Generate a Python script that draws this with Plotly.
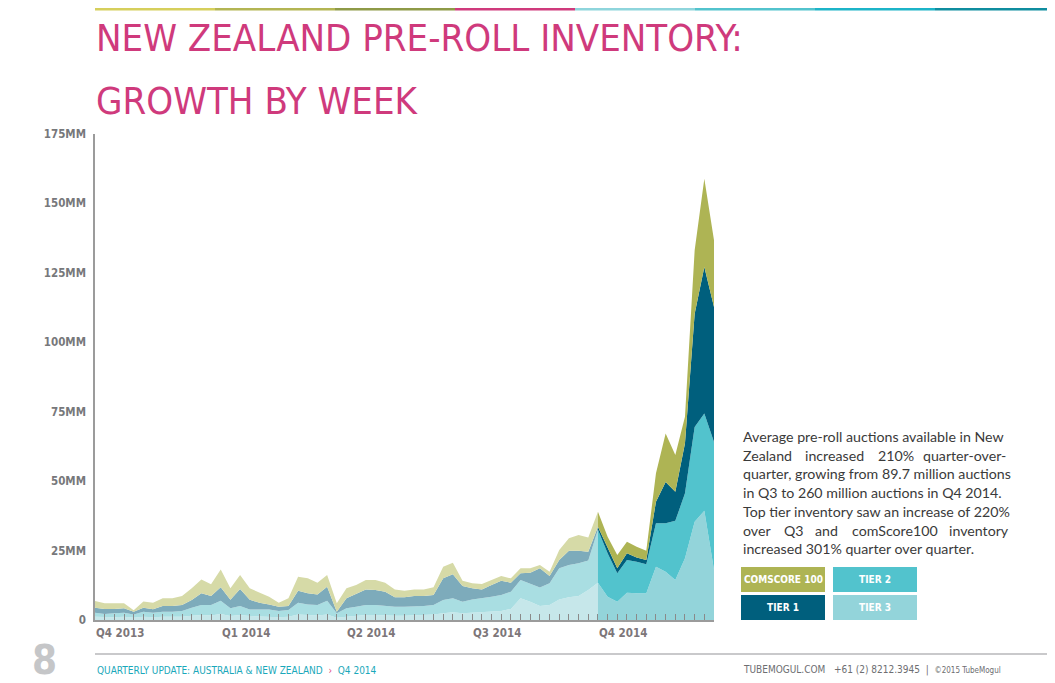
import plotly.graph_objects as go

# weekly pre-roll inventory, millions of auctions (Q4 2013 .. Q4 2014)
weeks = list(range(65))

tier3 = [1.2, 1.0, 1.0, 1.2, 0.8, 1.2, 1.0, 1.2, 1.2, 1.2,
         1.5, 1.8, 1.6, 2.2, 1.4, 1.8, 1.4, 1.2, 1.2, 1.0,
         1.2, 2.0, 1.8, 1.6, 2.0, 0.8, 1.2, 1.5, 1.8, 1.8,
         1.6, 1.5, 1.5, 1.6, 1.8, 2.0, 2.4, 2.8, 2.4, 2.6,
         2.8, 3.0, 3.2, 4.0, 7.8, 6.6, 5.0, 5.4, 7.4, 8.2,
         8.6, 10.8, 13.4, 8.4, 6.6, 9.8, 9.6, 9.6, 19.2, 17.4,
         14.4, 22.2, 35.4, 39.3, 18.0]
tier2 = [1.4, 1.2, 1.4, 1.4, 1.2, 1.8, 1.6, 1.8, 1.8, 2.0,
         2.9, 3.6, 3.8, 4.7, 2.8, 3.2, 2.4, 2.6, 2.6, 2.2,
         2.4, 4.2, 3.8, 3.8, 4.9, 1.6, 3.0, 3.3, 3.6, 3.6,
         3.4, 3.3, 3.3, 3.2, 3.2, 3.4, 4.8, 5.0, 4.2, 4.8,
         5.0, 5.4, 5.8, 6.2, 6.6, 6.4, 6.7, 7.8, 11.2, 11.6,
         11.8, 10.6, 19.1, 15.6, 10.2, 11.8, 11.4, 10.5, 15.6, 17.4,
         21.3, 23.4, 34.1, 35.1, 46.1]
tier1 = [1.8, 1.8, 1.6, 1.6, 1.0, 1.4, 1.3, 2.0, 2.0, 2.2,
         2.8, 4.2, 3.2, 4.9, 3.1, 6.2, 3.5, 2.4, 1.8, 1.6,
         1.4, 4.3, 4.0, 3.8, 5.1, 0.6, 3.6, 4.6, 5.6, 5.4,
         5.2, 3.4, 3.4, 3.8, 3.6, 3.6, 7.8, 8.7, 5.6, 4.0,
         3.2, 4.2, 5.1, 3.2, 2.4, 4.0, 6.9, 2.6, 3.0, 5.1,
         4.5, 3.2, 1.1, 1.8, 1.8, 2.4, 1.5, 1.5, 7.8, 14.9,
         10.5, 18.0, 40.8, 52.7, 48.6]
comscore100 = [2.4, 2.0, 2.0, 1.8, 0.5, 2.3, 2.3, 2.8, 2.8, 3.2,
               4.2, 5.0, 4.3, 6.4, 4.1, 5.0, 4.1, 3.6, 2.8, 1.4,
               2.8, 5.1, 5.4, 4.2, 4.2, 3.0, 3.6, 3.2, 3.4, 3.6,
               3.2, 2.8, 2.3, 2.4, 2.4, 2.8, 4.2, 4.1, 1.9, 1.8,
               2.0, 1.8, 1.7, 1.6, 1.8, 1.6, 1.2, 1.6, 3.6, 4.5,
               5.7, 5.1, 5.4, 4.2, 4.8, 4.2, 3.9, 3.3, 10.2, 17.5,
               13.2, 9.6, 22.8, 31.8, 24.0]

Q4_START = 52  # first week of Q4 2014, where the colours go full strength

series = [
    ("Tier 3", tier3, "#C6E7EA", "#93D4DA"),
    ("Tier 2", tier2, "#A9DEE2", "#52C3CD"),
    ("Tier 1", tier1, "#7DABBB", "#005F7D"),
    ("comScore 100", comscore100, "#D6DAA7", "#AEB454"),
]

quarter_weeks = [0, 13, 26, 39, 52]
quarter_labels = ["Q4 2013", "Q1 2014", "Q2 2014", "Q3 2014", "Q4 2014"]

y_ticks = [0, 25, 50, 75, 100, 125, 150, 175]
y_ticktext = ["0"] + ["%dMM" % v for v in y_ticks[1:]]

# the page body adds an 8px margin, so the figure is drawn 8px smaller
PAGE = 8
W, H = 1055 - PAGE, 683 - PAGE
L, R, T, B = 95, 714, 134, 620   # plot area in page pixels

COND = "DejaVu Sans Condensed, Roboto Condensed, Roboto, sans-serif"


def px(x):
    return (x - L) / (R - L)


def py(y):
    return (B - y) / (B - T)


fig = go.Figure()

for name, vals, faded, full in series:
    fig.add_trace(go.Scatter(
        x=weeks[:Q4_START + 1], y=vals[:Q4_START + 1], name=name,
        stackgroup="past", mode="lines", line=dict(width=0, color=faded),
        fillcolor=faded, showlegend=False))
for name, vals, faded, full in series:
    fig.add_trace(go.Scatter(
        x=weeks[Q4_START:], y=vals[Q4_START:], name=name,
        stackgroup="q4", mode="lines", line=dict(width=0, color=full),
        fillcolor=full, showlegend=False))

shapes = []
annotations = []

# coloured stripe along the top of the page
stripe = ["#D6CF5C", "#B3B553", "#8E9A47", "#CF3A7C",
          "#8ED5DC", "#52C3CD", "#1CB4C8", "#0F8D9F"]
for k, c in enumerate(stripe):
    shapes.append(dict(type="rect", xref="paper", yref="paper",
                       x0=px(95 + 120 * k), x1=px(95 + 120 * (k + 1)),
                       y0=py(PAGE + 2.5), y1=py(PAGE), fillcolor=c,
                       line_width=0))

# title
for yy, line in [(38, "NEW ZEALAND PRE-ROLL INVENTORY:"), (101, "GROWTH BY WEEK")]:
    annotations.append(dict(x=px(94), y=py(yy), xref="paper", yref="paper",
                            text=line, showarrow=False, xanchor="left",
                            yanchor="middle",
                            font=dict(family=COND, size=38, color="#CF3A7C",
                                      weight=300)))

# quarter labels under the axis
for wk, lab in zip(quarter_weeks, quarter_labels):
    annotations.append(dict(x=wk, y=py(633), xref="x", yref="paper", text=lab,
                            showarrow=False, xanchor="left", yanchor="middle",
                            xshift=-1,
                            font=dict(family=COND, size=11.5,
                                      color="#7D7679", weight="bold")))

# commentary text
text_font = dict(family="Lato", size=14.2, color="#3A3A3A")
lines = [
    (436, ["Average pre-roll auctions available in New"], [741]),
    (455, ["Zealand", "increased", "210%", "quarter-over-"], [741, 803, 876, 921]),
    (473, ["quarter, growing from 89.7 million auctions"], [741]),
    (492, ["in Q3 to 260 million auctions in Q4 2014."], [741]),
    (511, ["Top tier inventory saw an increase of 220%"], [741]),
    (530, ["over", "Q3", "and", "comScore100", "inventory"], [741, 782, 813, 850, 947]),
    (548, ["increased 301% quarter over quarter."], [741]),
]
for yy, words, xs in lines:
    for w, xx in zip(words, xs):
        annotations.append(dict(x=px(xx), y=py(yy), xref="paper", yref="paper",
                                text=w, showarrow=False, xanchor="left",
                                yanchor="middle", font=text_font))

# legend boxes
legend = [
    ("COMSCORE 100", "#AEB454", 741, 567),
    ("TIER 2", "#52C3CD", 833, 567),
    ("TIER 1", "#005F7D", 741, 595),
    ("TIER 3", "#93D4DA", 833, 595),
]
for lab, c, x0, y0 in legend:
    shapes.append(dict(type="rect", xref="paper", yref="paper",
                       x0=px(x0), x1=px(x0 + 84), y0=py(y0 + 25), y1=py(y0),
                       fillcolor=c, line_width=0))
    annotations.append(dict(x=px(x0 + 42), y=py(y0 + 12.5), xref="paper",
                            yref="paper", text=lab, showarrow=False,
                            xanchor="center", yanchor="middle",
                            font=dict(family=COND, size=10,
                                      color="white", weight="bold")))

# footer
shapes.append(dict(type="line", xref="paper", yref="paper",
                   x0=px(95), x1=px(1055), y0=py(654), y1=py(654),
                   line=dict(color="#C9C9CB", width=2)))
annotations += [
    dict(x=px(59), y=py(660), xref="paper", yref="paper", text="8",
         showarrow=False, xanchor="right", yanchor="middle",
         font=dict(family=COND, size=40, color="#C5C6C8", weight="bold")),
    dict(x=px(95), y=py(670), xref="paper", yref="paper",
         text="QUARTERLY UPDATE: AUSTRALIA &amp; NEW ZEALAND  "
              "<span style='color:#E0457F'>›</span>  Q4 2014",
         showarrow=False, xanchor="left", yanchor="middle",
         font=dict(family=COND, size=10, color="#1AA8BA")),
    dict(x=px(1003), y=py(670), xref="paper", yref="paper",
         text="TUBEMOGUL.COM   +61 (2) 8212.3945  |  "
              "<span style='font-size:8px'>©2015 TubeMogul</span>",
         showarrow=False, xanchor="right", yanchor="middle",
         font=dict(family=COND, size=10, color="#6D6E71")),
]

fig.update_layout(
    width=W, height=H,
    margin=dict(l=L - PAGE, r=1055 - R, t=T - PAGE, b=683 - B),
    paper_bgcolor="white", plot_bgcolor="white",
    xaxis=dict(range=[0, 64], showgrid=False, zeroline=False,
               showline=True, linecolor="#9B9B9B", linewidth=2,
               ticks="inside", tickmode="linear", tick0=0, dtick=1,
               ticklen=6, tickwidth=1, tickcolor="#8A8A8A",
               showticklabels=False),
    yaxis=dict(range=[0, 175], showgrid=False, zeroline=False,
               showline=True, linecolor="#9B9B9B", linewidth=1.5,
               tickmode="array", tickvals=y_ticks, ticktext=y_ticktext,
               ticks="", ticklabelstandoff=5,
               tickfont=dict(family=COND, size=11.5,
                             color="#77787B", weight="bold")),
    shapes=shapes,
    annotations=annotations,
    showlegend=False,
)

fig.write_html("out.html")
